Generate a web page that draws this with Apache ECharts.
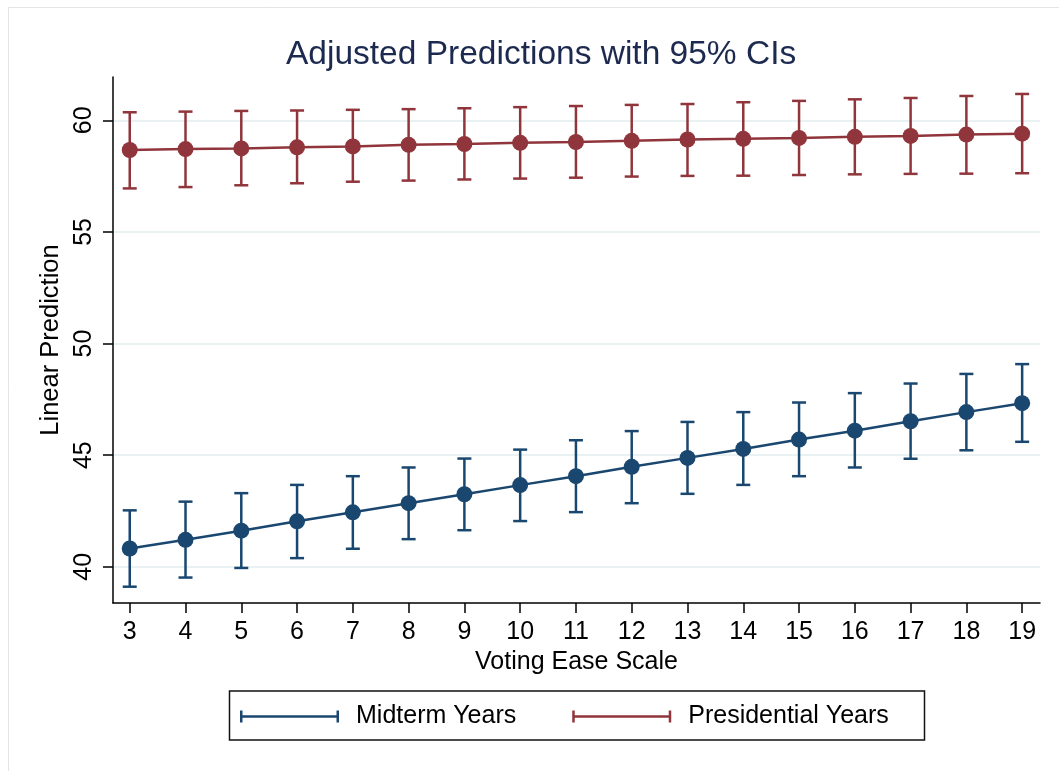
<!DOCTYPE html>
<html>
<head>
<meta charset="utf-8">
<title>Adjusted Predictions with 95% CIs</title>
<script src="https://cdn.jsdelivr.net/npm/echarts@6/dist/echarts.min.js"></script>
<style>
  html, body { margin: 0; padding: 0; background: #ffffff; }
  #chart { width: 1059px; height: 771px; }
</style>
</head>
<body>
<div id="chart"></div>
<script>
// Voting ease scale values (x)
const ease = [3, 4, 5, 6, 7, 8, 9, 10, 11, 12, 13, 14, 15, 16, 17, 18, 19];

// Midterm years: predicted value and 95% CI bounds
const midtermFit = [40.82, 41.21, 41.62, 42.04, 42.44, 42.85, 43.25, 43.66, 44.06, 44.48, 44.88, 45.28, 45.70, 46.10, 46.52, 46.93, 47.33];
const midtermLo  = [39.11, 39.52, 39.95, 40.39, 40.81, 41.24, 41.64, 42.05, 42.45, 42.85, 43.27, 43.67, 44.06, 44.45, 44.84, 45.22, 45.60];
const midtermHi  = [42.53, 42.92, 43.30, 43.67, 44.06, 44.45, 44.85, 45.25, 45.67, 46.08, 46.49, 46.93, 47.36, 47.78, 48.21, 48.64, 49.08];

// Presidential years: predicted value and 95% CI bounds
const presFit = [58.67, 58.71, 58.74, 58.79, 58.83, 58.90, 58.94, 58.99, 59.03, 59.08, 59.14, 59.17, 59.21, 59.26, 59.30, 59.36, 59.40];
const presLo  = [56.95, 57.01, 57.09, 57.18, 57.25, 57.30, 57.35, 57.39, 57.43, 57.48, 57.51, 57.52, 57.55, 57.58, 57.60, 57.61, 57.63];
const presHi  = [60.36, 60.39, 60.42, 60.44, 60.47, 60.50, 60.54, 60.59, 60.64, 60.69, 60.73, 60.81, 60.87, 60.94, 61.00, 61.09, 61.18];

// Tick values
const xTicks = [3, 4, 5, 6, 7, 8, 9, 10, 11, 12, 13, 14, 15, 16, 17, 18, 19];
const yTicks = [40, 45, 50, 55, 60];

const NAVY = '#1a476f';
const MAROON = '#90353b';
const FONT = '"Liberation Sans", Arial, Helvetica, sans-serif';

// Legend icon: horizontal line with end caps (99 x 12)
const capLineIcon = 'path://M0,0 L2.5,0 L2.5,4.75 L96.5,4.75 L96.5,0 L99,0 L99,12 L96.5,12 L96.5,7.25 L2.5,7.25 L2.5,12 L0,12 Z';

function pairs(xs, ys) {
  return xs.map((x, i) => [x, ys[i]]);
}
function ciRows(xs, lo, hi) {
  return xs.map((x, i) => [x, lo[i], hi[i]]);
}

// Vertical CI bar with horizontal caps
function renderCI(color) {
  return function (params, api) {
    const x = api.value(0);
    const lo = api.coord([x, api.value(1)]);
    const hi = api.coord([x, api.value(2)]);
    const half = 7;
    const style = { stroke: color, lineWidth: 2.5, fill: null };
    return {
      type: 'group',
      children: [
        { type: 'line', shape: { x1: lo[0], y1: lo[1], x2: hi[0], y2: hi[1] }, style: style },
        { type: 'line', shape: { x1: lo[0] - half, y1: lo[1], x2: lo[0] + half, y2: lo[1] }, style: style },
        { type: 'line', shape: { x1: hi[0] - half, y1: hi[1], x2: hi[0] + half, y2: hi[1] }, style: style }
      ]
    };
  };
}

const chart = echarts.init(document.getElementById('chart'), null, { renderer: 'canvas' });

chart.setOption({
  backgroundColor: '#ffffff',
  animation: false,
  textStyle: { fontFamily: FONT },
  title: {
    text: 'Adjusted Predictions with 95% CIs',
    left: 281,
    top: 33,
    textStyle: { fontFamily: FONT, fontSize: 33.5, fontWeight: 'normal', color: '#1c2a4f' }
  },
  graphic: [
    {
      type: 'rect',
      silent: true,
      shape: { x: 8.5, y: 7.5, width: 1200, height: 1000 },
      style: { fill: null, stroke: '#e4e4e4', lineWidth: 1 }
    },
    {
      type: 'rect',
      silent: true,
      shape: { x: 229.5, y: 691, width: 695, height: 49 },
      style: { fill: null, stroke: '#111111', lineWidth: 1.5 }
    }
  ],
  legend: {
    left: 240,
    top: 704,
    itemWidth: 99,
    itemHeight: 12,
    itemGap: 56,
    padding: 0,
    icon: capLineIcon,
    selectedMode: false,
    data: ['Midterm Years', 'Presidential Years'],
    textStyle: { fontFamily: FONT, fontSize: 25, color: '#000000', padding: [0, 0, 0, 12] }
  },
  grid: { left: 113, right: 19, top: 77, bottom: 168, containLabel: false },
  xAxis: {
    type: 'value',
    min: 2.7,
    max: 19.32,
    name: 'Voting Ease Scale',
    nameLocation: 'middle',
    nameGap: 47,
    nameTextStyle: { fontFamily: FONT, fontSize: 25, color: '#000000' },
    axisLine: { show: true, onZero: false, lineStyle: { color: '#000000', width: 1.5 } },
    axisTick: { show: true, length: 10, customValues: xTicks, lineStyle: { color: '#000000', width: 1.5 } },
    axisLabel: { customValues: xTicks, margin: 17, fontFamily: FONT, fontSize: 25, color: '#000000' },
    splitLine: { show: false }
  },
  yAxis: {
    type: 'value',
    min: 38.38,
    max: 61.94,
    name: 'Linear Prediction',
    nameLocation: 'middle',
    nameRotate: 90,
    nameGap: 47,
    nameTextStyle: { fontFamily: FONT, fontSize: 25.5, color: '#000000' },
    axisLine: { show: true, onZero: false, lineStyle: { color: '#000000', width: 1.5 } },
    axisTick: { show: true, length: 10, customValues: yTicks, lineStyle: { color: '#000000', width: 1.5 } },
    axisLabel: { customValues: yTicks, rotate: 90, margin: 16, fontFamily: FONT, fontSize: 25, color: '#000000' },
    splitLine: { show: true, lineStyle: { color: '#eaf1f3', width: 2 } }
  },
  series: [
    {
      name: 'Midterm Years',
      type: 'line',
      data: pairs(ease, midtermFit),
      symbol: 'circle',
      symbolSize: 16,
      itemStyle: { color: NAVY },
      lineStyle: { color: NAVY, width: 2.5 },
      z: 3
    },
    {
      name: 'Presidential Years',
      type: 'line',
      data: pairs(ease, presFit),
      symbol: 'circle',
      symbolSize: 16,
      itemStyle: { color: MAROON },
      lineStyle: { color: MAROON, width: 2.5 },
      z: 3
    },
    {
      name: 'Midterm Years',
      type: 'custom',
      renderItem: renderCI(NAVY),
      itemStyle: { color: NAVY },
      encode: { x: 0, y: [1, 2] },
      data: ciRows(ease, midtermLo, midtermHi),
      z: 2
    },
    {
      name: 'Presidential Years',
      type: 'custom',
      renderItem: renderCI(MAROON),
      itemStyle: { color: MAROON },
      encode: { x: 0, y: [1, 2] },
      data: ciRows(ease, presLo, presHi),
      z: 2
    }
  ]
});
</script>
</body>
</html>
